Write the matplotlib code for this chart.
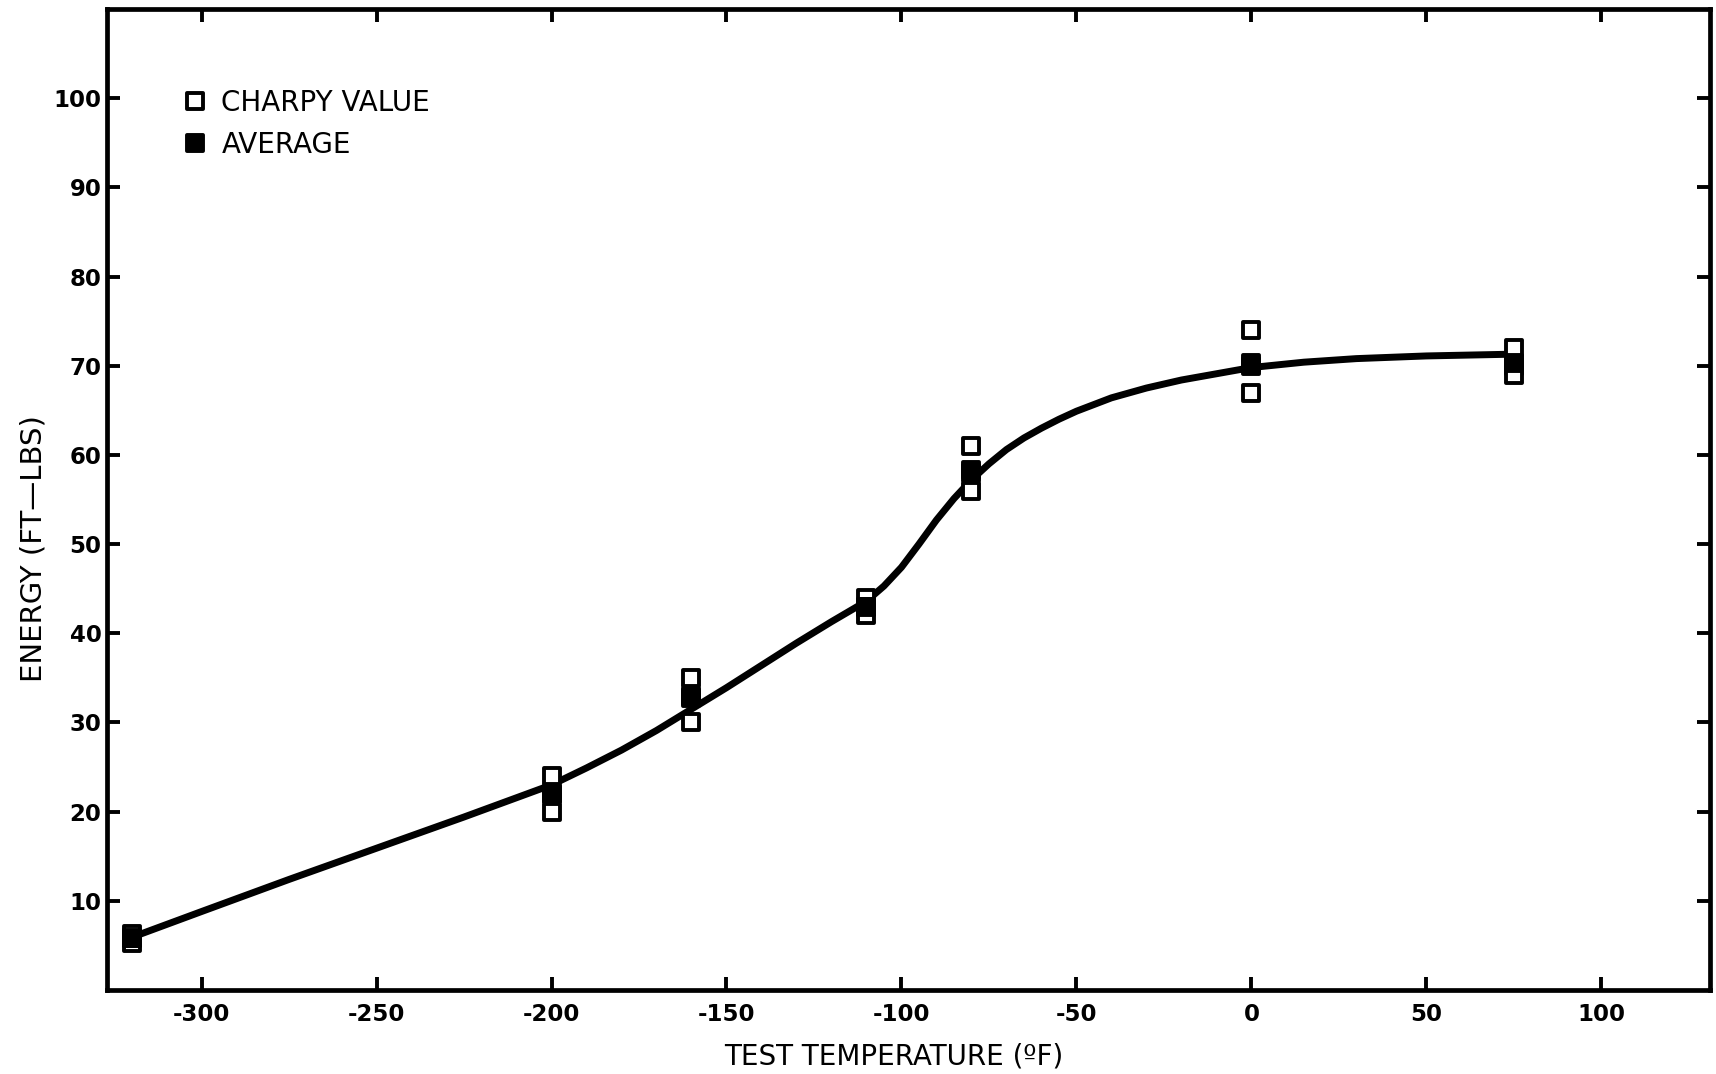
import numpy as np
import matplotlib
matplotlib.use("Agg")
import matplotlib.pyplot as plt
from matplotlib.markers import MarkerStyle

plt.rcParams['axes.unicode_minus'] = False
plt.rcParams['font.family'] = ['DejaVu Sans']

# test temperatures (deg F) and the three Charpy readings at each
temps = [-320, -200, -160, -110, -80, 0, 75]
charpy_1 = [5.3, 24.0, 35.0, 44.0, 61.0, 74.0, 72.0]
charpy_2 = [5.8, 22.0, 33.0, 43.0, 58.0, 70.0, 70.0]
charpy_3 = [6.3, 20.0, 30.0, 42.0, 56.0, 67.0, 69.0]
average = [5.8, 22.0, 32.7, 43.0, 58.3, 70.3, 70.3]

# hand-faired transition curve
curve_t = [-320, -300, -275, -250, -225, -200, -190, -180, -170, -160, -150,
           -140, -130, -120, -110, -105, -100, -95, -90, -85, -80, -75, -70,
           -65, -60, -55, -50, -40, -30, -20, -10, 0, 15, 30, 50, 75]
curve_e = [5.9, 8.8, 12.4, 15.9, 19.4, 23.0, 24.9, 26.9, 29.1, 31.5, 33.9,
           36.4, 38.9, 41.3, 43.6, 45.3, 47.4, 50.0, 52.7, 55.1, 57.2, 59.0, 60.6,
           61.9, 63.0, 64.0, 64.9, 66.4, 67.5, 68.4, 69.1, 69.8,
           70.4, 70.8, 71.1, 71.3]

fig = plt.figure(figsize=(17.16, 10.74), dpi=100)
ax = fig.add_axes([0.0624, 0.0782, 0.934, 0.9134])

ax.plot(curve_t, curve_e, color='black', lw=5, solid_capstyle='round',
        solid_joinstyle='round', zorder=2)

sq = MarkerStyle('s', joinstyle='round')
for vals in (charpy_1, charpy_2, charpy_3):
    ax.plot(temps, vals, ls='none', marker=sq, ms=11.5, mfc='white', mec='black',
            mew=2.8, zorder=3)
ax.plot(temps, average, ls='none', marker=sq, ms=12, mfc='black', mec='black',
        mew=2.8, zorder=4)

# legend drawn as marker + text
h1, = ax.plot([], [], ls='none', marker=sq, ms=11.5, mfc='white', mec='black', mew=2.8)
h2, = ax.plot([], [], ls='none', marker=sq, ms=12, mfc='black', mec='black', mew=2.8)
ax.legend([h1, h2], ['CHARPY VALUE', 'AVERAGE'], loc='upper left',
          bbox_to_anchor=(0.041, 0.93), frameon=False, handlelength=0.8,
          handletextpad=0.55, labelspacing=0.5, borderaxespad=0,
          prop={'size': 20})

ax.set_xlim(-327, 131)
ax.set_ylim(0, 110)
ax.set_xticks(np.arange(-300, 101, 50))
ax.set_yticks(np.arange(10, 101, 10))

for side in ax.spines.values():
    side.set_linewidth(3.4)
ax.tick_params(direction='in', length=9.5, width=2.8, top=True, right=True,
               labelsize=16.5)
ax.tick_params(axis='x', pad=9)
ax.tick_params(axis='y', pad=4)
for lab in ax.get_xticklabels() + ax.get_yticklabels():
    lab.set_fontweight('bold')

ax.set_xlabel('TEST TEMPERATURE (ºF)', fontsize=20)
ax.xaxis.set_label_coords(0.491, -0.054)
ax.set_ylabel('ENERGY (FT—LBS)', fontsize=21)
ax.yaxis.set_label_coords(-0.037, 0.45)

fig.savefig('out.png', dpi=100)
